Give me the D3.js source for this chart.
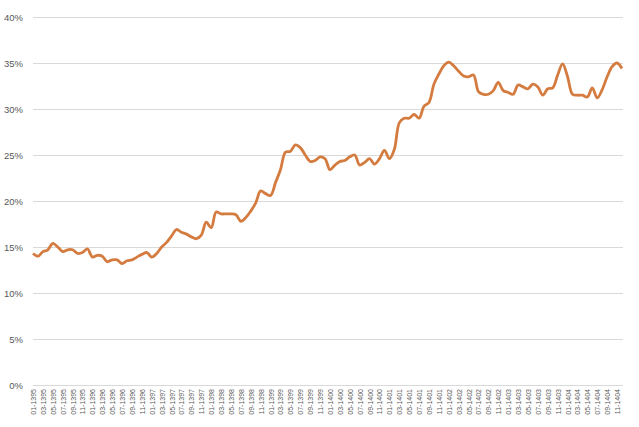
<!DOCTYPE html>
<html>
<head>
<meta charset="utf-8">
<script src="https://cdn.jsdelivr.net/npm/d3@7"></script>
<style>
  body { margin: 0; background: #fff; }
  svg text { font-family: "Liberation Sans", Arial, sans-serif; fill: #595959; }
</style>
</head>
<body>
<div id="chart"></div>
<script>
// category labels: month-year (Persian calendar), one point per month
var years = [1395, 1396, 1397, 1398, 1399, 1400, 1401, 1402, 1403, 1404];
var monthCodes = ["01", "02", "03", "04", "05", "06", "07", "08", "09", "10", "11", "12"];
var months = [];
years.forEach(function (y) {
  monthCodes.forEach(function (m) { months.push(m + "-" + y); });
});

// values in percent
var rate = [
  14.3, 14.0, 14.5, 14.7, 15.4, 15.0, 14.5, 14.7, 14.7, 14.3, 14.4, 14.8,
  13.9, 14.1, 14.0, 13.4, 13.6, 13.6, 13.2, 13.5, 13.6, 13.9, 14.2, 14.4,
  13.9, 14.3, 15.0, 15.5, 16.2, 16.9, 16.6, 16.4, 16.1, 15.9, 16.3, 17.7,
  17.1, 18.8, 18.6, 18.6, 18.6, 18.5, 17.8, 18.2, 18.9, 19.8, 21.1, 20.8,
  20.6, 22.0, 23.4, 25.3, 25.4, 26.1, 25.8, 25.0, 24.3, 24.4, 24.8, 24.6,
  23.4, 23.9, 24.3, 24.4, 24.8, 25.0, 23.9, 24.2, 24.6, 24.0, 24.6, 25.5,
  24.6, 25.6, 28.5, 29.0, 29.0, 29.4, 29.0, 30.3, 30.7, 32.7, 33.8, 34.7,
  35.1, 34.7, 34.1, 33.6, 33.5, 33.7, 31.9, 31.6, 31.6, 32.0, 32.9, 32.0,
  31.8, 31.6, 32.6, 32.4, 32.2, 32.7, 32.4, 31.5, 32.2, 32.3, 33.7, 34.9,
  33.5, 31.6, 31.5, 31.5, 31.3, 32.3, 31.2, 32.1, 33.5, 34.6, 35.0, 34.4
];

var yTicks = [0, 5, 10, 15, 20, 25, 30, 35, 40];

var width = 639, height = 427;
// plot box (note: "top" is a reserved browser global, so prefixed names)
var plotLeft = 33, plotRight = 622, plotTop = 17, plotBottom = 385;

var svg = d3.select("#chart").append("svg")
  .attr("width", width)
  .attr("height", height);

var x = d3.scalePoint().domain(months).range([plotLeft, plotRight]);
var y = d3.scaleLinear().domain([0, 40]).range([plotBottom, plotTop]);

// horizontal gridlines + y labels
var yAxis = svg.append("g")
  .attr("transform", "translate(" + plotLeft + ",0)")
  .call(d3.axisLeft(y)
    .tickValues(yTicks)
    .tickSize(-(plotRight - plotLeft + 1))
    .tickPadding(10)
    .tickFormat(function (d) { return d + "%"; }));
yAxis.select(".domain").remove();
yAxis.selectAll("line").attr("stroke", "#d9d9d9").attr("stroke-width", 1);
yAxis.selectAll("text").style("font-size", "9.5px").style("fill", "#595959");

// x labels, every second month, rotated
var xAxis = svg.append("g")
  .attr("transform", "translate(0," + plotBottom + ")")
  .call(d3.axisBottom(x)
    .tickValues(months.filter(function (d, i) { return i % 2 === 0; }))
    .tickSize(0)
    .tickPadding(0));
xAxis.select(".domain").remove();
xAxis.selectAll("text")
  .style("font-size", "7px")
  .style("fill", "#595959")
  .attr("text-anchor", "end")
  .attr("transform", "rotate(-90)")
  .attr("x", -4)
  .attr("y", 0)
  .attr("dy", "0.35em");

// the line
var line = d3.line()
  .x(function (d, i) { return x(months[i]); })
  .y(function (d) { return y(d); })
  .curve(d3.curveCatmullRom);

svg.append("path")
  .datum(rate)
  .attr("fill", "none")
  .attr("stroke", "#d47b3f")
  .attr("stroke-width", 2.8)
  .attr("stroke-linejoin", "round")
  .attr("d", line);
</script>
</body>
</html>
